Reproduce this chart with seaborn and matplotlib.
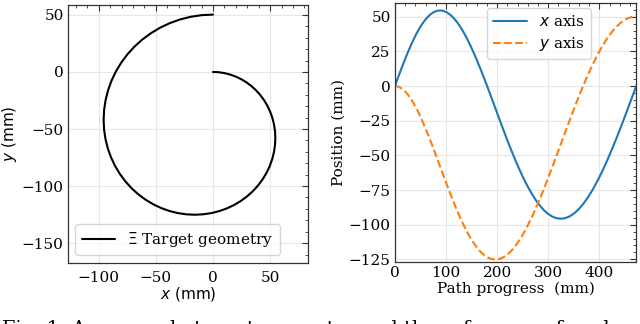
import numpy as np
import pandas as pd
import seaborn as sns
import matplotlib.pyplot as plt
from matplotlib.ticker import AutoMinorLocator

# path progress (mm) and the x / y position of the target geometry (mm)
path_s = [0.0, 4.95, 9.97, 15.07, 20.25, 25.51, 30.84, 36.25, 41.74, 47.30, 52.94,
          58.66, 64.46, 70.33, 76.28, 82.31, 88.41, 94.59, 100.85, 107.18, 113.60,
          120.09, 126.65, 133.30, 140.02, 146.81, 153.69, 160.64, 167.67, 174.78,
          181.96, 189.22, 196.56, 203.97, 211.46, 219.03, 226.68, 234.40, 242.20,
          250.08, 258.03, 266.07, 274.18, 282.36, 290.62, 298.96, 307.38, 315.87,
          324.45, 333.09, 341.82, 350.62, 359.50, 368.46, 377.49, 386.60, 395.79,
          405.06, 414.40, 423.82, 433.32, 442.89, 452.54, 462.27, 472.07]
pos_x = [0.0, 4.94, 9.91, 14.85, 19.73, 24.48, 29.05, 33.39, 37.46, 41.19, 44.55,
         47.49, 49.96, 51.94, 53.38, 54.27, 54.57, 54.26, 53.34, 51.80, 49.65,
         46.87, 43.50, 39.54, 35.03, 29.99, 24.47, 18.51, 12.16, 5.47, -1.49,
         -8.67, -16.00, -23.40, -30.81, -38.15, -45.35, -52.32, -59.01, -65.34,
         -71.23, -76.62, -81.45, -85.65, -89.18, -91.99, -94.03, -95.28, -95.70,
         -95.27, -93.99, -91.86, -88.86, -85.04, -80.39, -74.97, -68.80, -61.94,
         -54.43, -46.36, -37.78, -28.77, -19.41, -9.79, 0.0]
pos_y = [0.0, -0.24, -0.98, -2.22, -3.97, -6.21, -8.95, -12.17, -15.86, -19.98,
         -24.51, -29.41, -34.65, -40.18, -45.95, -51.91, -58.00, -64.17, -70.36,
         -76.50, -82.54, -88.40, -94.03, -99.36, -104.34, -108.90, -113.00,
         -116.57, -119.57, -121.97, -123.71, -124.77, -125.13, -124.77, -123.67,
         -121.83, -119.26, -115.95, -111.94, -107.25, -101.91, -95.96, -89.45,
         -82.43, -74.97, -67.12, -58.96, -50.56, -42.00, -33.37, -24.74, -16.20,
         -7.85, 0.25, 7.99, 15.31, 22.11, 28.33, 33.89, 38.73, 42.79, 46.02,
         48.36, 49.79, 50.27]

df = pd.DataFrame({'s': path_s, 'x': pos_x, 'y': pos_y})

sns.set_style('whitegrid')
plt.rcParams['font.family'] = ['DejaVu Serif']
plt.rcParams['mathtext.fontset'] = 'dejavusans'
plt.rcParams['font.size'] = 11
plt.rcParams['grid.color'] = '#e6e6e6'
plt.rcParams['axes.edgecolor'] = '#333333'
plt.rcParams['text.color'] = 'black'
plt.rcParams['axes.labelcolor'] = 'black'
plt.rcParams['xtick.labelcolor'] = 'black'
plt.rcParams['ytick.labelcolor'] = 'black'

fig = plt.figure(figsize=(6.4, 3.24), dpi=100)
ax1 = fig.add_axes([0.106, 0.188, 0.375, 0.797])
ax2 = fig.add_axes([0.617, 0.191, 0.377, 0.800])

# left: geometry
sns.lineplot(data=df, x='x', y='y', sort=False, estimator=None, color='black',
             lw=1.5, ax=ax1, label=r'$\Xi$ Target geometry')
ax1.set_xlim(-127, 83)
ax1.set_ylim(-167.5, 58.8)
ax1.set_xticks([-100, -50, 0, 50])
ax1.set_yticks([50, 0, -50, -100, -150])
ax1.set_xlabel('$x$ (mm)', family='DejaVu Sans', labelpad=0)
ax1.set_ylabel('$y$ (mm)', family='DejaVu Sans', labelpad=2)
ax1.legend(loc='lower left', fontsize=11, handlelength=2.2)

# right: position over path progress
sns.lineplot(data=df, x='s', y='x', color='#1f77b4', lw=1.5, ax=ax2, label='$x$ axis')
sns.lineplot(data=df, x='s', y='y', color='#ff7f0e', lw=1.5, ls='--', ax=ax2,
             label='$y$ axis')
ax2.set_xlim(0, 472)
ax2.set_ylim(-127, 60)
ax2.set_xticks([0, 100, 200, 300, 400])
ax2.set_yticks([50, 25, 0, -25, -50, -75, -100, -125])
ax2.set_xlabel('Path progress  (mm)', labelpad=1)
ax2.set_ylabel('Position (mm)', labelpad=2)
ax2.legend(loc='upper left', bbox_to_anchor=(0.35, 1.01), fontsize=11,
           handlelength=2.2, labelspacing=0.4)

for ax in (ax1, ax2):
    ax.xaxis.set_minor_locator(AutoMinorLocator())
    ax.yaxis.set_minor_locator(AutoMinorLocator())
    ax.tick_params(which='both', direction='in', top=True, right=True,
                   color='#333333', labelsize=11)
    ax.tick_params(which='major', length=4, width=0.8, pad=3)
    ax.tick_params(which='minor', length=2, width=0.6)
    ax.grid(True, which='major', lw=0.8)
    for sp in ax.spines.values():
        sp.set_linewidth(0.9)
ax1.tick_params(axis='x', which='major', pad=6)

# paper caption, cut off at the bottom edge
fig.text(0.003, -0.03, 'Fig. 1: An example target geometry and the reference of each axis for a',
         fontsize=14, family='DejaVu Serif', va='baseline')

fig.savefig('out.png', dpi=100)
